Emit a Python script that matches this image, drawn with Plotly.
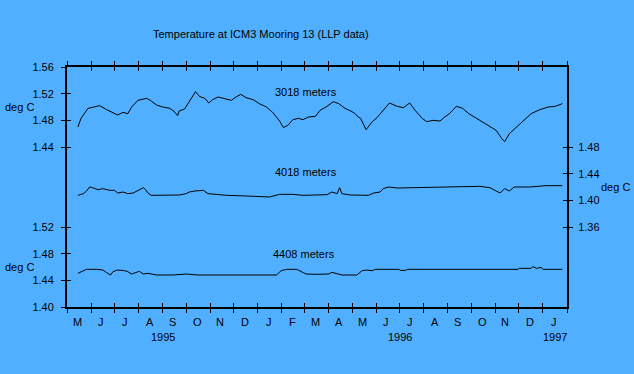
import plotly.graph_objects as go

# ---------------- data ----------------
dates_3018 = ["1995-05-15","1995-05-19","1995-05-28","1995-06-03","1995-06-12","1995-06-21","1995-06-29",
    "1995-07-05","1995-07-12","1995-07-18","1995-07-23","1995-07-31","1995-08-11","1995-08-16","1995-08-24",
    "1995-09-01","1995-09-10","1995-09-16","1995-09-20","1995-09-22","1995-09-29","1995-10-03","1995-10-10",
    "1995-10-13","1995-10-18","1995-10-25","1995-10-30","1995-11-04","1995-11-11","1995-11-19","1995-11-28",
    "1995-12-04","1995-12-10","1995-12-17","1995-12-26","1996-01-03","1996-01-12","1996-01-20","1996-01-29",
    "1996-02-03","1996-02-09","1996-02-15","1996-02-22","1996-02-28","1996-03-06","1996-03-15","1996-03-21",
    "1996-03-30","1996-04-07","1996-04-14","1996-04-22","1996-05-01","1996-05-05","1996-05-09","1996-05-12",
    "1996-05-19","1996-05-27","1996-06-02","1996-06-09","1996-06-18","1996-06-28","1996-07-06","1996-07-14",
    "1996-07-21","1996-07-30","1996-08-05","1996-08-13","1996-08-22","1996-08-28","1996-09-03","1996-09-12",
    "1996-09-20","1996-09-28","1996-10-08","1996-10-16","1996-10-25","1996-11-02","1996-11-09","1996-11-13",
    "1996-11-19","1996-11-28","1996-12-06","1996-12-17","1996-12-28","1997-01-08","1997-01-17","1997-01-26"]
temp_3018 = [1.470,1.483,1.498,1.500,1.502,1.496,1.491,
    1.488,1.492,1.490,1.500,1.510,1.513,1.510,1.503,
    1.500,1.498,1.493,1.487,1.494,1.497,1.505,1.518,
    1.523,1.516,1.513,1.506,1.511,1.515,1.513,1.510,
    1.515,1.519,1.514,1.511,1.505,1.500,1.492,1.479,
    1.469,1.473,1.481,1.483,1.481,1.485,1.486,1.495,
    1.501,1.508,1.505,1.498,1.493,1.490,1.485,1.483,
    1.466,1.478,1.484,1.494,1.506,1.501,1.499,1.506,
    1.495,1.483,1.478,1.480,1.479,1.485,1.490,1.501,
    1.498,1.490,1.483,1.478,1.471,1.465,1.453,1.448,
    1.460,1.470,1.478,1.490,1.496,1.500,1.501,1.505]

dates_4018 = ["1995-05-15","1995-05-22","1995-05-26","1995-05-30","1995-06-03","1995-06-10","1995-06-16",
    "1995-06-25","1995-07-01","1995-07-05","1995-07-12","1995-07-18","1995-07-25","1995-07-31","1995-08-07",
    "1995-08-10","1995-08-13","1995-08-17","1995-08-28","1995-09-22","1995-10-01","1995-10-05","1995-10-12",
    "1995-10-18","1995-10-23","1995-10-29","1995-11-09","1995-11-22","1995-12-17","1996-01-03","1996-01-16",
    "1996-01-29","1996-02-15","1996-02-28","1996-03-30","1996-04-05","1996-04-12","1996-04-15","1996-04-18",
    "1996-04-29","1996-05-22","1996-05-29","1996-06-06","1996-06-10","1996-06-17","1996-06-28","1996-07-19",
    "1996-08-09","1996-08-31","1996-09-20","1996-10-12","1996-10-25","1996-11-02","1996-11-07","1996-11-13",
    "1996-11-19","1996-11-25","1996-12-15","1997-01-05","1997-01-26"]
temp_4018 = [1.4075,1.410,1.414,1.420,1.419,1.416,1.4175,
    1.415,1.415,1.411,1.4125,1.410,1.411,1.415,1.419,
    1.416,1.411,1.4075,1.4075,1.408,1.410,1.4125,1.414,
    1.414,1.415,1.410,1.409,1.4075,1.4065,1.406,1.405,
    1.409,1.409,1.4075,1.4085,1.4125,1.410,1.419,1.410,
    1.408,1.4075,1.411,1.4125,1.4175,1.420,1.4185,1.419,
    1.420,1.421,1.421,1.421,1.419,1.414,1.411,1.4175,
    1.414,1.420,1.420,1.422,1.422]

dates_4408 = ["1995-05-15","1995-05-19","1995-05-26","1995-06-08","1995-06-16","1995-06-21","1995-06-26",
    "1995-06-29","1995-07-05","1995-07-14","1995-07-18","1995-07-23","1995-07-29","1995-08-02","1995-08-07",
    "1995-08-13","1995-08-24","1995-09-14","1995-10-01","1995-10-16","1996-01-25","1996-01-31","1996-02-07",
    "1996-02-20","1996-02-26","1996-03-03","1996-03-16","1996-04-01","1996-04-05","1996-04-12","1996-04-18",
    "1996-05-07","1996-05-14","1996-05-20","1996-05-27","1996-05-31","1996-06-30","1996-07-02","1996-07-09",
    "1996-07-11","1996-11-30","1996-12-02","1996-12-17","1996-12-19","1996-12-24","1996-12-30","1997-01-01",
    "1997-01-26"]
temp_4408 = [1.4505,1.453,1.4565,1.4565,1.4555,1.4515,1.448,
    1.453,1.4555,1.4545,1.453,1.4495,1.4515,1.4535,1.4495,
    1.4505,1.448,1.448,1.4495,1.448,1.448,1.4545,1.4565,
    1.4565,1.453,1.4495,1.449,1.4495,1.452,1.4495,1.448,
    1.448,1.4545,1.4555,1.4545,1.4565,1.4565,1.455,1.455,
    1.4565,1.4565,1.458,1.458,1.4605,1.458,1.4595,1.4565,
    1.4565]

month_starts = ["1995-05-01","1995-06-01","1995-07-01","1995-08-01","1995-09-01","1995-10-01","1995-11-01",
    "1995-12-01","1996-01-01","1996-02-01","1996-03-01","1996-04-01","1996-05-01","1996-06-01","1996-07-01",
    "1996-08-01","1996-09-01","1996-10-01","1996-11-01","1996-12-01","1997-01-01","1997-02-01"]
month_mids = ["1995-05-15","1995-06-14","1995-07-15","1995-08-15","1995-09-14","1995-10-15","1995-11-14",
    "1995-12-15","1996-01-15","1996-02-14","1996-03-15","1996-04-14","1996-05-15","1996-06-14","1996-07-15",
    "1996-08-15","1996-09-14","1996-10-15","1996-11-14","1996-12-15","1997-01-15"]
month_letters = ["M","J","J","A","S","O","N","D","J","F","M","A","M","J","J","A","S","O","N","D","J"]
year_labels = ["1995","1996","1997"]
year_pos = ["1995-09-01","1996-07-01","1997-01-16"]

ticks_upper = [1.44, 1.48, 1.52, 1.56]
ticks_lower = [1.40, 1.44, 1.48, 1.52]
ticks_right = [1.36, 1.40, 1.44, 1.48]
range_upper = [1.20, 1.56]
range_lower = [1.40, 1.76]
range_right = [1.24, 1.60]
x_range = ["1995-05-01", "1997-02-01"]

BG = "#50B0FF"
FONT = "Liberation Sans, Arial, sans-serif"
FS = 11

fig = go.Figure()
line = dict(color="black", width=1)
fig.add_trace(go.Scatter(x=dates_3018, y=temp_3018, mode="lines", line=line, yaxis="y", hoverinfo="skip"))
fig.add_trace(go.Scatter(x=dates_4408, y=temp_4408, mode="lines", line=line, yaxis="y2", hoverinfo="skip"))
fig.add_trace(go.Scatter(x=dates_4018, y=temp_4018, mode="lines", line=line, yaxis="y3", hoverinfo="skip"))
# empty traces to bind the inside-tick helper axes
fig.add_trace(go.Scatter(x=[], y=[], xaxis="x2", yaxis="y", hoverinfo="skip"))
fig.add_trace(go.Scatter(x=[], y=[], xaxis="x", yaxis="y4", hoverinfo="skip"))
fig.add_trace(go.Scatter(x=[], y=[], xaxis="x", yaxis="y5", hoverinfo="skip"))
fig.add_trace(go.Scatter(x=[], y=[], xaxis="x", yaxis="y6", hoverinfo="skip"))

base_y = dict(showgrid=False, zeroline=False, showline=True, linecolor="black", linewidth=2,
              ticklen=4, tickwidth=1, tickcolor="black")
lab_font = dict(family=FONT, size=FS, color="black")

fig.update_layout(
    width=634, height=374,
    margin=dict(l=67, r=67, t=67, b=67),
    paper_bgcolor=BG, plot_bgcolor=BG,
    showlegend=False,
    font=dict(family=FONT, size=FS, color="black"),
    xaxis=dict(type="date", range=x_range, tickmode="array", tickvals=month_starts,
               ticktext=[""] * len(month_starts), ticks="outside", ticklen=4, tickcolor="black",
               showline=True, linecolor="black", linewidth=2, mirror="ticks", showgrid=False, zeroline=False),
    xaxis2=dict(type="date", range=x_range, overlaying="x", anchor="y", tickmode="array",
                tickvals=month_starts, ticktext=[""] * len(month_starts), ticks="inside", ticklen=4,
                tickcolor="black", showline=False, mirror="ticks", showgrid=False, zeroline=False),
    yaxis=dict(range=range_upper, tickmode="array", tickvals=ticks_upper,
               ticktext=[f"{v:.2f}" for v in ticks_upper], ticks="outside", side="left",
               ticklabelstandoff=5, tickfont=lab_font, **base_y),
    yaxis2=dict(range=range_lower, tickmode="array", tickvals=ticks_lower,
                ticktext=[f"{v:.2f}" for v in ticks_lower], ticks="outside", side="left",
                overlaying="y", ticklabelstandoff=5, tickfont=lab_font, **base_y),
    yaxis3=dict(range=range_right, tickmode="array", tickvals=ticks_right,
                ticktext=[f"{v:.2f}" for v in ticks_right], ticks="outside", side="right",
                overlaying="y", ticklabelstandoff=3, tickfont=lab_font, **base_y),
    yaxis4=dict(range=range_lower, tickmode="array", tickvals=ticks_lower, overlaying="y", side="left",
                ticks="inside", showticklabels=False, **base_y),
    yaxis5=dict(range=range_right, tickmode="array", tickvals=ticks_right, overlaying="y", side="right",
                ticks="inside", showticklabels=False, **base_y),
    yaxis6=dict(range=range_upper, tickmode="array", tickvals=ticks_upper, overlaying="y", side="left",
                ticks="inside", showticklabels=False, **base_y),
)

ann = []
def txt(text, x, y, xref="paper", yref="paper", yshift=0, xanchor="center"):
    ann.append(dict(text=text, x=x, y=y, xref=xref, yref=yref, showarrow=False, xanchor=xanchor,
                    yanchor="middle", yshift=yshift, font=dict(family=FONT, size=FS, color="black")))

txt("Temperature at ICM3 Mooring 13 (LLP data)", (261 - 67) / 500, 1 + (67 - 34) / 240)
txt("deg C", (19.5 - 67) / 500, (307 - 107) / 240)
txt("deg C", (19.5 - 67) / 500, (307 - 267) / 240)
txt("deg C", (615 - 67) / 500, (307 - 187) / 240)
txt("3018 meters", (306 - 67) / 500, (307 - 92.5) / 240)
txt("4018 meters", (306 - 67) / 500, (307 - 172) / 240)
txt("4408 meters", (304 - 67) / 500, (307 - 253.5) / 240)
for d, m in zip(month_mids, month_letters):
    txt(m, d, 0, xref="x", yshift=-14.7)
for d, yl in zip(year_pos, year_labels):
    txt(yl, d, 0, xref="x", yshift=-29.7)
fig.update_layout(annotations=ann)

fig.write_html("out.html", config={"displayModeBar": False},
               post_script="document.body.style.margin='0';")
